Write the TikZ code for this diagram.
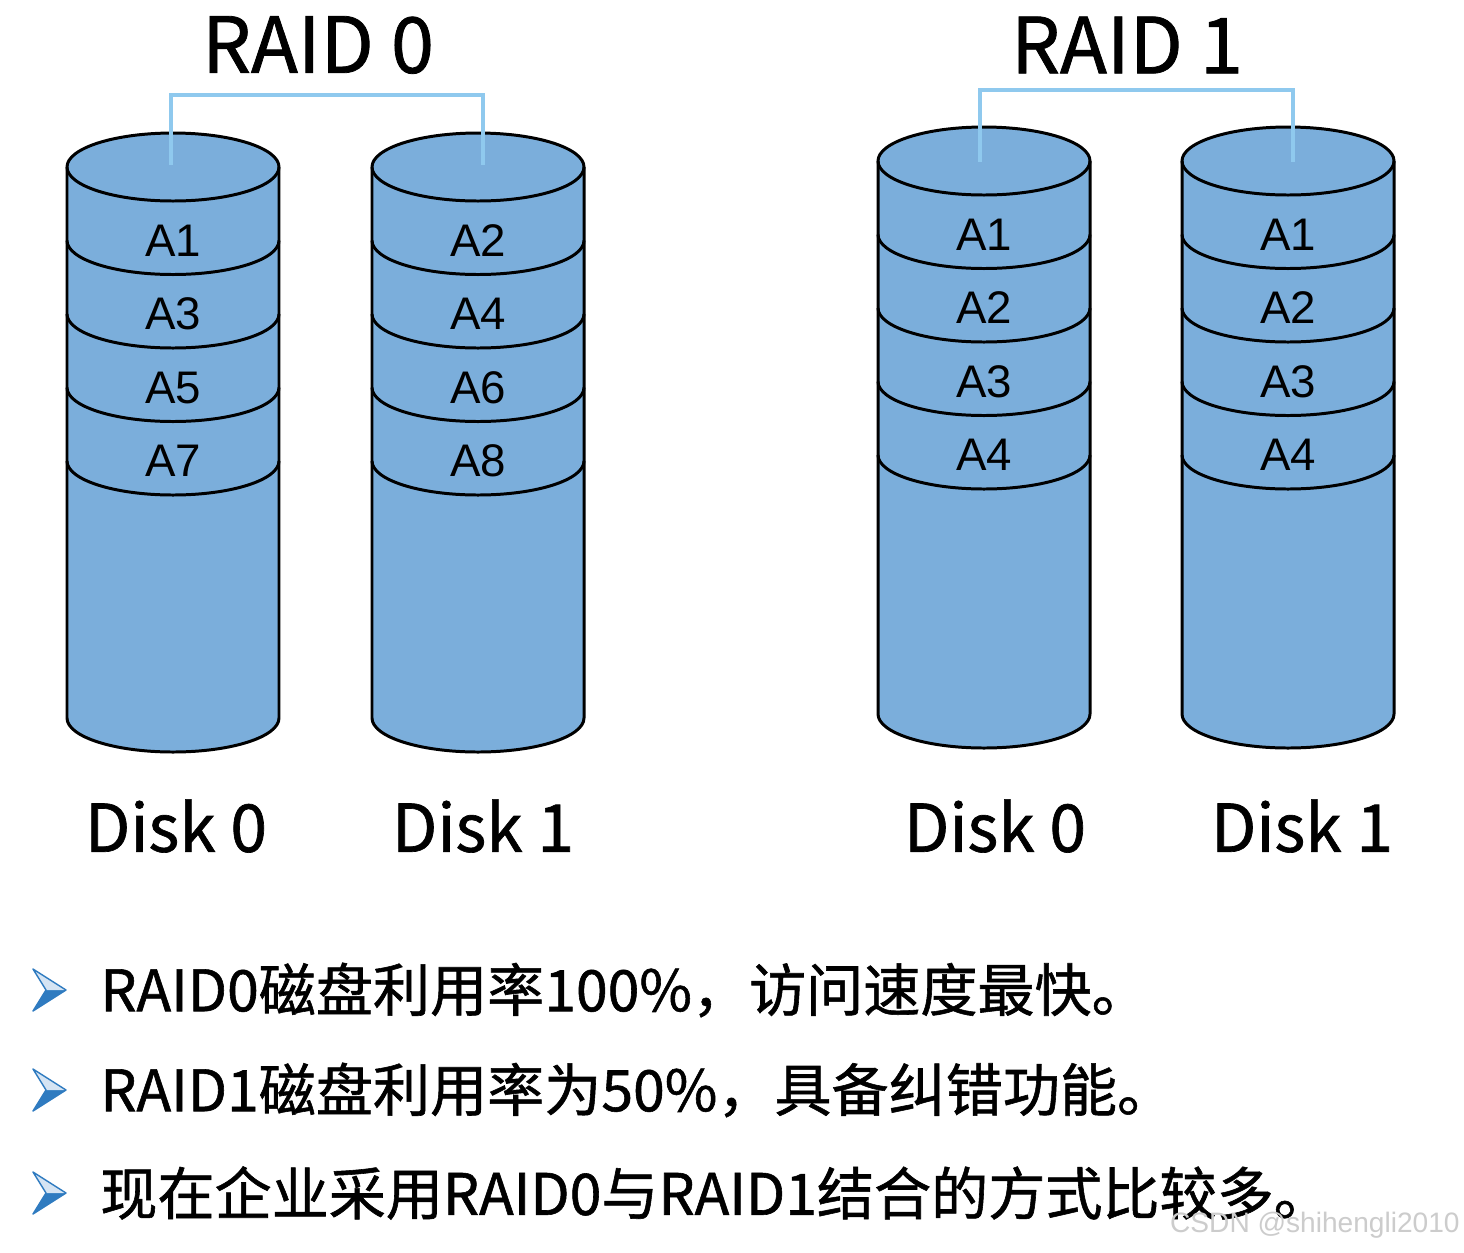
\documentclass[tikz,border=0pt]{standalone}
\usepackage{fontspec}
\setmainfont{Noto Sans CJK SC}
\newfontfamily\heavy{Noto Sans CJK SC}[FakeBold=1]
\newfontfamily\helv{Liberation Sans}
\usepackage{tikz}

\definecolor{diskblue}{HTML}{7BAEDB}
\definecolor{linkblue}{HTML}{8FC9EE}
\definecolor{bulletblue}{HTML}{2F7BC0}

\begin{document}
\begin{tikzpicture}[x=0.02cm, y=0.02cm,
	every node/.style={inner sep=0pt},
	disk/.style={fill=diskblue, draw=black, line width=1.7pt},
	band/.style={draw=black, line width=1.7pt},
	link/.style={draw=linkblue, line width=2.2pt},
	title/.style={font=\heavy\fontsize{44}{48}\selectfont},
	disklabel/.style={font=\heavy\fontsize{37.5}{42}\selectfont},
	block/.style={font=\helv\fontsize{26}{28}\selectfont},
	bullet/.style={font=\heavy\fontsize{32.5}{36}\selectfont, anchor=west}]
			\fill[white] (0,0) rectangle (1464,-1252);
			\useasboundingbox (0,0) rectangle (1464,-1252);
			
			% disks
			\foreach \cx/\yt/\yb/\nm/\lst in {173/167/718/r0a/{A1,A3,A5,A7}, 478/167/718/r0b/{A2,A4,A6,A8},
				984/161/714/r1a/{A1,A2,A3,A4}, 1288/161/714/r1b/{A1,A2,A3,A4}}{
				\path[disk] (\cx-106,-\yt) -- (\cx-106,-\yb)
					arc[start angle=180, end angle=360, x radius=106, y radius=34]
					-- (\cx+106,-\yt)
					arc[start angle=0, end angle=180, x radius=106, y radius=34] -- cycle;
				\draw[band] (\cx-106,-\yt) arc[start angle=180, end angle=360, x radius=106, y radius=34];
				\foreach \t [count=\k] in \lst {
					\draw[band] (\cx-106,-\yt-73.5*\k) arc[start angle=180, end angle=360, x radius=106, y radius=34];
					\node[block] (\nm-\k) at (\cx,-\yt-73.5*\k) {\t};
				}
			}
			
			\coordinate (r0a-top) at (171,-165);
			\coordinate (r0b-top) at (483,-165);
			\coordinate (r1a-top) at (980,-162);
			\coordinate (r1b-top) at (1293,-162);
			\draw[link] (r0a-top) -- ++(0,70) -| (r0b-top);
			\draw[link] (r1a-top) -- ++(0,72) -| (r1b-top);
			
			\node[title] (t0) at (318,-45) {RAID 0};
			\node[title] (t1) at (1127,-45) {RAID 1};
			
			\node[disklabel] (d00) at (176,-826) {Disk 0};
			\node[disklabel] (d01) at (483,-826) {Disk 1};
			\node[disklabel] (d10) at (995,-826) {Disk 0};
			\node[disklabel] (d11) at (1302,-826) {Disk 1};
			
			% bullets
			\foreach \y in {990,1090,1193}{
				\fill[bulletblue] (46,-\y) -- (66,-\y) -- (33,-\y-21) -- cycle;
				\fill[bulletblue!20] (33,-\y+21) -- (66,-\y) -- (46,-\y) -- cycle;
				\draw[bulletblue, line width=0.8pt, line join=round] (33,-\y+21) -- (66,-\y) -- (33,-\y-21) -- (46,-\y) -- cycle;
			}
			\node[bullet] (l1) at (100,-990) {RAID0磁盘利用率100\%，访问速度最快。};
			\node[bullet] (l2) at (100,-1090) {RAID1磁盘利用率为50\%，具备纠错功能。};
			\node[bullet] (l3) at (100,-1193) {现在企业采用RAID0与RAID1结合的方式比较多。};
			
			\node[font=\helv\fontsize{16}{17}\selectfont, text=gray!40, anchor=east] (wm) at (1460,-1225) {CSDN @shihengli2010};
\end{tikzpicture}
\end{document}
